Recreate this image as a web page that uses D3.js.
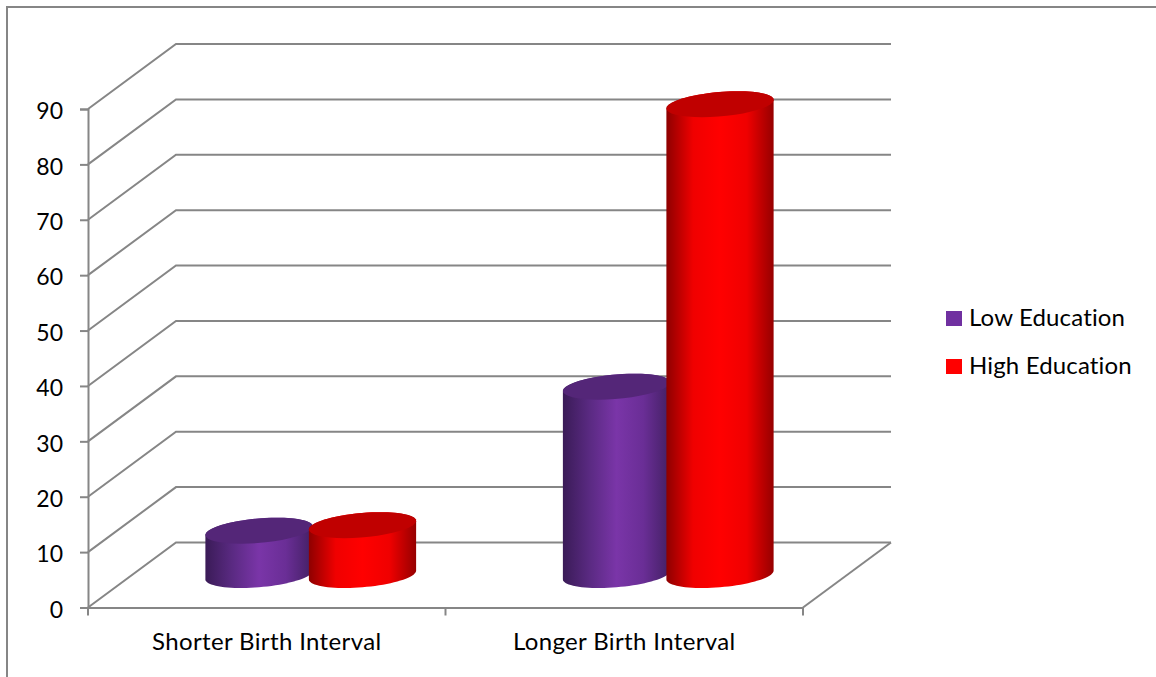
<!DOCTYPE html>
<html>
<head>
<meta charset="utf-8">
<script src="https://cdn.jsdelivr.net/npm/d3@7"></script>
<style>
  html, body { margin: 0; padding: 0; background: #fff; overflow: hidden; }
  text { font-family: Lato, "Open Sans", sans-serif; fill: #000; }
  .axis path, .axis line { stroke: #868686; stroke-width: 2; }
  .axis .domain { fill: none; }
</style>
</head>
<body>
<div id="chart"></div>
<script>
var categories = ['Shorter Birth Interval', 'Longer Birth Interval']
var seriesNames = ['Low Education', 'High Education']
var lowEducation = [8, 34]
var highEducation = [9, 85]
var yTicks = [0, 10, 20, 30, 40, 50, 60, 70, 80, 90]

var seriesValues = [lowEducation, highEducation]
var seriesStyle = [
  { id: 'gradLow', swatch: '#7030a0', top: '#542678', stops: ['#3a1b57', '#5a2a82', '#7a35a8', '#6a2e96', '#432064'] },
  { id: 'gradHigh', swatch: '#ff0000', top: '#c00000', stops: ['#8e0000', '#f00000', '#ff0000', '#f00000', '#960000'] }
]

var width = 1156
var height = 677
var margin = { top: 109, left: 88, bottom: 69.5, right: 353 }
var depth = { x: 88, y: -65 }
var chartWidth = width - margin.left - margin.right
var chartHeight = height - margin.top - margin.bottom

var svg = d3.select('#chart').append('svg')
  .attr('width', width)
  .attr('height', height)
  .style('display', 'block')

var x = d3.scaleBand().domain(categories).range([0, chartWidth])
var y = d3.scaleLinear().domain([0, 90]).range([chartHeight, 0])
var xSeries = d3.scaleBand().domain(seriesNames).range([-103.5, 103.5])

// frame
svg.append('path')
  .attr('d', d3.line()([[7, height], [7, 7], [width, 7]]))
  .attr('fill', 'none')
  .attr('stroke', '#868686')
  .attr('stroke-width', 2)

var gChart = svg.append('g')
  .attr('transform', 'translate(' + margin.left + ',' + margin.top + ')')

// back wall lines and side wall diagonals
var gGrid = gChart.append('g')
gGrid.selectAll('path')
    .data(yTicks)
  .enter().append('path')
    .attr('d', function (d) {
      return d3.line()([
        [0, y(d)],
        [depth.x, y(d) + depth.y],
        [chartWidth + depth.x, y(d) + depth.y]
      ])
    })
    .attr('fill', 'none')
    .attr('stroke', '#868686')
    .attr('stroke-width', 2)

// right edge of the floor
gGrid.append('path')
  .attr('d', d3.line()([
    [chartWidth, y(0)],
    [chartWidth + depth.x, y(0) + depth.y]
  ]))
  .attr('fill', 'none')
  .attr('stroke', '#868686')
  .attr('stroke-width', 2)

var gYaxis = gChart.append('g')
  .attr('class', 'y axis')
  .call(d3.axisLeft(y).tickValues(yTicks).tickSize(8).tickPadding(17))
gYaxis.selectAll('text')
  .attr('dy', '0.42em')
  .style('font-size', '23px')

var gXaxis = gChart.append('g')
  .attr('class', 'x axis')
  .attr('transform', 'translate(0,' + chartHeight + ')')
  .call(d3.axisBottom(x).tickSize(0).tickPadding(25))
gXaxis.selectAll('text')
  .style('font-size', '24px')
  .style('letter-spacing', '0.36px')

// category separators
gXaxis.selectAll('.sep')
    .data([0, 1, 2])
  .enter().append('line')
    .attr('class', 'sep')
    .attr('x1', function (d) { return d * x.bandwidth() })
    .attr('x2', function (d) { return d * x.bandwidth() })
    .attr('y1', 0)
    .attr('y2', 8)

// gradients for the cylinder sides
var defs = svg.append('defs')
seriesStyle.forEach(function (s) {
  var grad = defs.append('linearGradient')
    .attr('id', s.id)
    .attr('x1', 0).attr('x2', 1).attr('y1', 0).attr('y2', 0)
  s.stops.forEach(function (c, i) {
    grad.append('stop')
      .attr('offset', (i / (s.stops.length - 1) * 100) + '%')
      .attr('stop-color', c)
  })
})

// cylinder cross section: a circle on the floor seen in the chart's oblique view
var ux = 50.5
var vx = 18
var vy = -13
var t0 = Math.atan2(vx, ux)

function rim(cx, cy, from, to) {
  return d3.range(0, 41).map(function (i) {
    var t = from + (to - from) * i / 40
    return [cx + ux * Math.cos(t) + vx * Math.sin(t), cy + vy * Math.sin(t)]
  })
}

var line = d3.line()

var gBars = gChart.append('g')
categories.forEach(function (cat, c) {
  seriesNames.forEach(function (name, s) {
    var cx = x(cat) + x.bandwidth() / 2 + depth.x / 2 + xSeries(name) + xSeries.bandwidth() / 2
    var baseY = y(0) + depth.y / 2
    var topY = y(seriesValues[s][c]) + depth.y / 2
    var style = seriesStyle[s]

    var outline = rim(cx, topY, t0, t0 + Math.PI)
      .concat(rim(cx, baseY, t0 + Math.PI, t0 + 2 * Math.PI))

    gBars.append('path')
      .attr('d', line(outline) + 'Z')
      .attr('fill', 'url(#' + style.id + ')')

    gBars.append('path')
      .attr('d', line(rim(cx, topY, 0, 2 * Math.PI)) + 'Z')
      .attr('fill', style.top)
  })
})

// legend
var legend = svg.append('g')
  .attr('transform', 'translate(946,311)')
var legendItem = legend.selectAll('g')
    .data(seriesNames)
  .enter().append('g')
    .attr('transform', function (d, i) { return 'translate(0,' + (i * 48) + ')' })
legendItem.append('rect')
  .attr('width', 16)
  .attr('height', 15)
  .attr('fill', function (d, i) { return seriesStyle[i].swatch })
legendItem.append('text')
  .attr('x', 23)
  .attr('y', 15)
  .style('font-size', '24px')
  .style('letter-spacing', '0.15px')
  .text(function (d) { return d })
</script>
</body>
</html>
